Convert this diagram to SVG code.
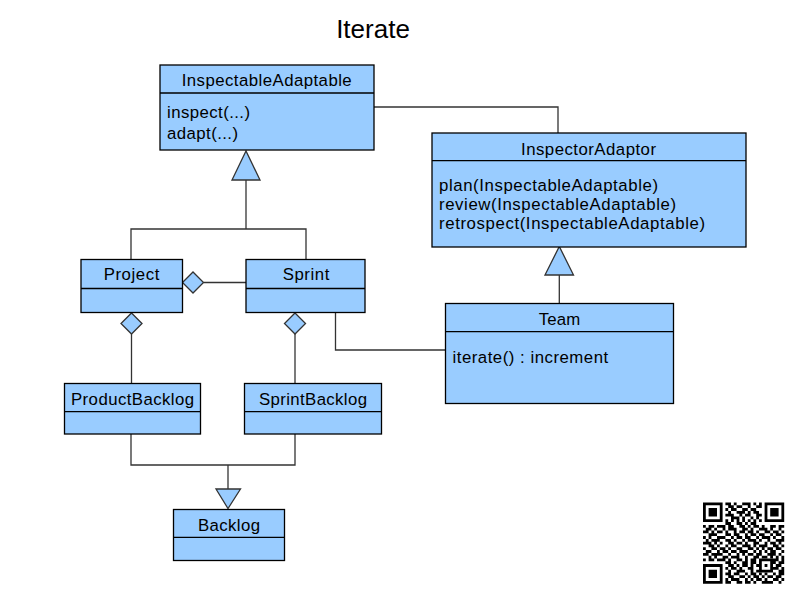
<svg xmlns="http://www.w3.org/2000/svg" width="800" height="600" viewBox="0 0 800 600">
<style>
.box{fill:#99ccff;stroke:#000;stroke-width:1.3}
.dv{stroke:#000;stroke-width:1.3}
.t{font-family:"Liberation Sans",Arial,sans-serif;font-size:16.8px;fill:#000}
.m{text-anchor:middle}
.c{fill:none;stroke:#333;stroke-width:1.3}
.hd{fill:#99ccff;stroke:#333;stroke-width:1.3}
</style>
<rect x="0" y="0" width="800" height="600" fill="#fff"/>
<text x="373" y="38.3" class="t m" style="font-size:26px">Iterate</text>

<g id="connectors">
<polyline class="c" points="374,107 558,107 558,133"/>
<line class="c" x1="246" y1="180" x2="246" y2="229"/>
<polyline class="c" points="131,259.5 131,229 306,229 306,259.5"/>
<polygon class="hd" points="232,180 260,180 246,151"/>
<line class="c" x1="203.5" y1="282.5" x2="246" y2="282.5"/>
<polygon class="hd" points="182.5,282.5 193,272 203.5,282.5 193,293"/>
<line class="c" x1="131.5" y1="334" x2="131.5" y2="383.5"/>
<polygon class="hd" points="131.5,313 142,323.5 131.5,334 121,323.5"/>
<line class="c" x1="295" y1="334" x2="295" y2="383.5"/>
<polygon class="hd" points="295,313 305.5,323.5 295,334 284.5,323.5"/>
<polyline class="c" points="335.5,312.5 335.5,350 445.5,350"/>
<line class="c" x1="559.3" y1="275" x2="559.3" y2="303.5"/>
<polygon class="hd" points="545,275 573.5,275 559.3,246.5"/>
<polyline class="c" points="131,434 131,465 295,465 295,434"/>
<line class="c" x1="228" y1="465" x2="228" y2="489"/>
<polygon class="hd" points="216,489 240.5,489 228,508.5"/>
</g>

<g id="InspectableAdaptable">
<rect class="box" x="160" y="65" width="214" height="85"/>
<line class="dv" x1="160" y1="93" x2="374" y2="93"/>
<text class="t m" x="266.7" y="85.5" textLength="170" lengthAdjust="spacing">InspectableAdaptable</text>
<text class="t" x="167" y="117.5" textLength="83" lengthAdjust="spacing">inspect(...)</text>
<text class="t" x="167" y="138.5" textLength="71" lengthAdjust="spacing">adapt(...)</text>
</g>

<g id="InspectorAdaptor">
<rect class="box" x="432" y="133" width="314" height="114"/>
<line class="dv" x1="432" y1="160.7" x2="746" y2="160.7"/>
<text class="t m" x="588.5" y="155" textLength="135" lengthAdjust="spacing">InspectorAdaptor</text>
<text class="t" x="439" y="191" textLength="219" lengthAdjust="spacing">plan(InspectableAdaptable)</text>
<text class="t" x="439" y="210" textLength="237" lengthAdjust="spacing">review(InspectableAdaptable)</text>
<text class="t" x="439" y="228.5" textLength="266" lengthAdjust="spacing">retrospect(InspectableAdaptable)</text>
</g>

<g id="Project">
<rect class="box" x="81" y="259.5" width="101.5" height="53"/>
<line class="dv" x1="81" y1="288.5" x2="182.5" y2="288.5"/>
<text class="t m" x="131.5" y="280" textLength="55.7" lengthAdjust="spacing">Project</text>
</g>

<g id="Sprint">
<rect class="box" x="246" y="259.5" width="119" height="53"/>
<line class="dv" x1="246" y1="288.5" x2="365" y2="288.5"/>
<text class="t m" x="306" y="280" textLength="46.7" lengthAdjust="spacing">Sprint</text>
</g>

<g id="Team">
<rect class="box" x="445.5" y="303.5" width="228" height="100"/>
<line class="dv" x1="445.5" y1="331.7" x2="673.5" y2="331.7"/>
<text class="t m" x="559.5" y="324.5" textLength="41.7" lengthAdjust="spacing">Team</text>
<text class="t" x="452.5" y="363.3" textLength="155.7" lengthAdjust="spacing">iterate() : increment</text>
</g>

<g id="ProductBacklog">
<rect class="box" x="64.5" y="383.5" width="136" height="50.5"/>
<line class="dv" x1="64.5" y1="411.7" x2="200.5" y2="411.7"/>
<text class="t m" x="132.5" y="405" textLength="123" lengthAdjust="spacing">ProductBacklog</text>
</g>

<g id="SprintBacklog">
<rect class="box" x="244.5" y="383.5" width="137" height="50.5"/>
<line class="dv" x1="244.5" y1="411.7" x2="381.5" y2="411.7"/>
<text class="t m" x="313" y="405" textLength="108" lengthAdjust="spacing">SprintBacklog</text>
</g>

<g id="Backlog">
<rect class="box" x="173.5" y="509.5" width="111" height="51"/>
<line class="dv" x1="173.5" y1="537.3" x2="284.5" y2="537.3"/>
<text class="t m" x="229" y="530.7" textLength="62" lengthAdjust="spacing">Backlog</text>
</g>

<g id="qrcode" transform="translate(703,502.5) scale(2.8)" fill="#000">
<path fill-rule="evenodd" d="M0 0h7v7h-7zM1 1v5h5v-5zM2 2h3v3h-3zM22 0h7v7h-7zM23 1v5h5v-5zM24 2h3v3h-3zM0 22h7v7h-7zM1 23v5h5v-5zM2 24h3v3h-3zM20 20h5v5h-5zM21 21v3h3v-3zM22 22h1v1h-1z"/>
<path d="M8 0h2v1h-2zM11 0h1v1h-1zM14 0h3v1h-3zM18 0h1v1h-1zM20 0h1v1h-1z
M9 1h2v1h-2zM12 1h2v1h-2zM16 1h1v1h-1zM19 1h2v1h-2z
M8 2h1v1h-1zM10 2h2v1h-2zM14 2h2v1h-2zM17 2h2v1h-2z
M9 3h1v1h-1zM12 3h3v1h-3zM16 3h1v1h-1zM18 3h2v1h-2z
M8 4h3v1h-3zM13 4h1v1h-1zM15 4h2v1h-2zM19 4h2v1h-2z
M10 5h3v1h-3zM14 5h1v1h-1zM17 5h1v1h-1zM19 5h1v1h-1z
M8 6h1v1h-1zM10 6h1v1h-1zM12 6h1v1h-1zM14 6h1v1h-1zM16 6h1v1h-1zM18 6h1v1h-1zM20 6h1v1h-1z
M8 7h2v1h-2zM12 7h2v1h-2zM15 7h1v1h-1zM17 7h2v1h-2z
M0 8h1v1h-1zM2 8h2v1h-2zM5 8h3v1h-3zM9 8h2v1h-2zM13 8h2v1h-2zM16 8h1v1h-1zM18 8h2v1h-2zM21 8h1v1h-1zM24 8h2v1h-2zM27 8h2v1h-2z
M1 9h2v1h-2zM4 9h1v1h-1zM7 9h1v1h-1zM9 9h3v1h-3zM14 9h2v1h-2zM17 9h1v1h-1zM20 9h3v1h-3zM24 9h1v1h-1zM27 9h1v1h-1z
M0 10h2v1h-2zM3 10h1v1h-1zM5 10h2v1h-2zM8 10h1v1h-1zM11 10h1v1h-1zM13 10h2v1h-2zM16 10h2v1h-2zM19 10h1v1h-1zM22 10h2v1h-2zM25 10h2v1h-2zM28 10h1v1h-1z
M2 11h3v1h-3zM8 11h2v1h-2zM11 11h2v1h-2zM15 11h1v1h-1zM17 11h2v1h-2zM20 11h2v1h-2zM24 11h1v1h-1zM26 11h2v1h-2z
M0 12h1v1h-1zM2 12h1v1h-1zM5 12h3v1h-3zM10 12h1v1h-1zM12 12h2v1h-2zM15 12h2v1h-2zM19 12h1v1h-1zM21 12h3v1h-3zM25 12h1v1h-1zM28 12h1v1h-1z
M1 13h1v1h-1zM3 13h3v1h-3zM8 13h2v1h-2zM11 13h1v1h-1zM14 13h1v1h-1zM16 13h3v1h-3zM20 13h1v1h-1zM23 13h1v1h-1zM26 13h3v1h-3z
M0 14h3v1h-3zM4 14h1v1h-1zM6 14h1v1h-1zM9 14h2v1h-2zM12 14h2v1h-2zM15 14h1v1h-1zM18 14h2v1h-2zM22 14h1v1h-1zM24 14h2v1h-2zM27 14h1v1h-1z
M2 15h2v1h-2zM5 15h1v1h-1zM8 15h1v1h-1zM10 15h2v1h-2zM14 15h3v1h-3zM18 15h1v1h-1zM20 15h3v1h-3zM25 15h2v1h-2zM28 15h1v1h-1z
M0 16h1v1h-1zM3 16h2v1h-2zM6 16h2v1h-2zM9 16h1v1h-1zM12 16h2v1h-2zM16 16h2v1h-2zM19 16h1v1h-1zM21 16h1v1h-1zM23 16h2v1h-2zM26 16h2v1h-2z
M1 17h2v1h-2zM5 17h1v1h-1zM7 17h2v1h-2zM10 17h2v1h-2zM13 17h3v1h-3zM18 17h1v1h-1zM20 17h1v1h-1zM22 17h1v1h-1zM24 17h2v1h-2zM28 17h1v1h-1z
M0 18h2v1h-2zM3 18h4v1h-4zM9 18h1v1h-1zM12 18h1v1h-1zM14 18h1v1h-1zM16 18h2v1h-2zM19 18h2v1h-2zM23 18h3v1h-3zM27 18h1v1h-1z
M2 19h1v1h-1zM4 19h1v1h-1zM7 19h2v1h-2zM10 19h3v1h-3zM15 19h1v1h-1zM18 19h2v1h-2zM21 19h2v1h-2zM24 19h1v1h-1zM26 19h1v1h-1zM28 19h1v1h-1z
M0 20h1v1h-1zM2 20h2v1h-2zM5 20h3v1h-3zM9 20h1v1h-1zM12 20h2v1h-2zM15 20h1v1h-1zM17 20h2v1h-2zM25 20h2v1h-2zM28 20h1v1h-1z
M8 21h2v1h-2zM11 21h1v1h-1zM14 21h2v1h-2zM17 21h2v1h-2zM25 21h1v1h-1zM27 21h2v1h-2z
M9 22h2v1h-2zM12 22h1v1h-1zM14 22h2v1h-2zM17 22h1v1h-1zM19 22h1v1h-1zM26 22h2v1h-2z
M8 23h1v1h-1zM10 23h2v1h-2zM13 23h1v1h-1zM16 23h2v1h-2zM25 23h2v1h-2zM28 23h1v1h-1z
M9 24h1v1h-1zM12 24h3v1h-3zM17 24h1v1h-1zM19 24h1v1h-1zM27 24h2v1h-2z
M8 25h2v1h-2zM11 25h2v1h-2zM15 25h1v1h-1zM17 25h2v1h-2zM20 25h1v1h-1zM22 25h1v1h-1zM25 25h1v1h-1zM27 25h2v1h-2z
M9 26h2v1h-2zM13 26h2v1h-2zM16 26h1v1h-1zM18 26h2v1h-2zM21 26h1v1h-1zM23 26h2v1h-2zM26 26h2v1h-2z
M8 27h1v1h-1zM10 27h3v1h-3zM15 27h1v1h-1zM17 27h1v1h-1zM19 27h2v1h-2zM22 27h1v1h-1zM25 27h2v1h-2zM28 27h1v1h-1z
M8 28h2v1h-2zM12 28h2v1h-2zM15 28h2v1h-2zM18 28h1v1h-1zM21 28h4v1h-4zM27 28h1v1h-1z"/>
</g>
</svg>
